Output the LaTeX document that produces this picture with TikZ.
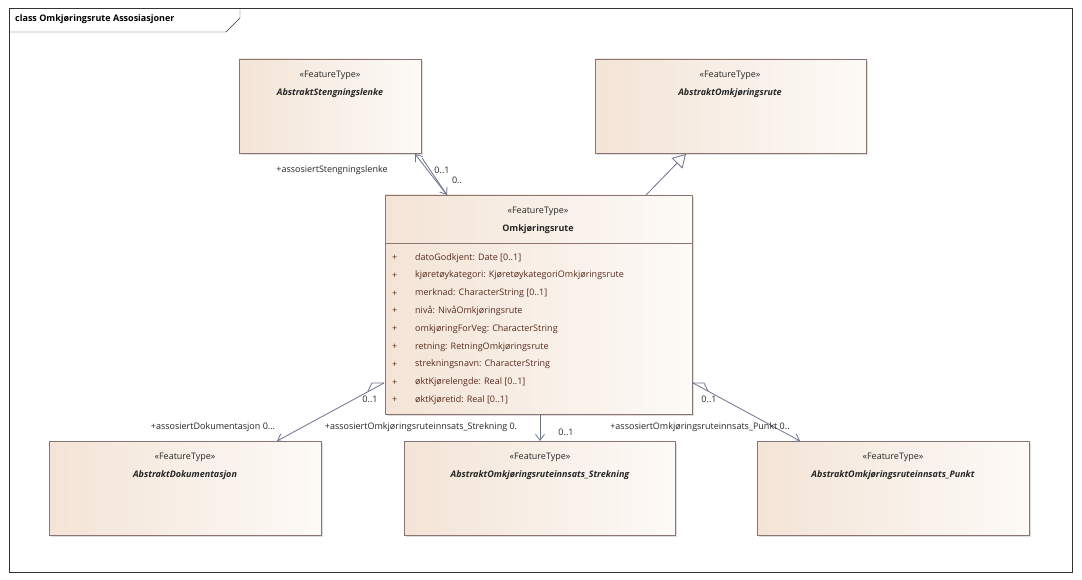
\documentclass[tikz,border=0pt]{standalone}
\usepackage{fontspec}
\setmainfont{Open Sans}
\usetikzlibrary{arrows.meta,shadows,calc}
\definecolor{bord}{HTML}{8C7474}
\definecolor{txt}{HTML}{5A2A1E}
\definecolor{lnk}{HTML}{6E7390}
\definecolor{boxl}{HTML}{F3E4D6}
\definecolor{boxr}{HTML}{FDFAF7}
\begin{document}
\begin{tikzpicture}[x=1pt,y=-1pt,
  cls/.style={draw=bord,left color=boxl,right color=boxr,drop shadow={shadow xshift=2pt,shadow yshift=-2pt,fill=black!25}},
  st/.style={font=\fontsize{9}{11}\selectfont,text=black!85},
  nm/.style={font=\fontsize{9}{11}\selectfont\bfseries\itshape,text=black!85},
  lab/.style={font=\fontsize{9}{11}\selectfont,text=black!85,inner sep=0pt},
  attr/.style={font=\fontsize{9}{11}\selectfont,text=txt,anchor=west,inner sep=0pt},
  ln/.style={draw=lnk,line width=0.8pt},
  oa/.style={-{Straight Barb[length=6pt,width=9pt]}}]
\useasboundingbox (0,0) rectangle (1082,580);
\fill[white] (0,0) rectangle (1082,580);
\draw[black!80] (9,8) rectangle (1072,572);
\draw[black!80] (9,32) -- (226,32) -- (240,18) -- (240,8);
\node[anchor=west,font=\fontsize{9}{11}\selectfont\bfseries,inner sep=0pt] (title) at (15,19) {class Omkjøringsrute Assosiasjoner};
% boxes
\path[cls] (239,59) rectangle (421,153);
\node[st] (s1) at (330,75) {«FeatureType»};
\node[nm] (sl) at (330,93) {AbstraktStengningslenke};
\coordinate (slA) at (415,154);
\path[cls] (595,59) rectangle (866,153);
\node[st] (s2) at (730,75) {«FeatureType»};
\node[nm] (ao) at (730,93) {AbstraktOmkjøringsrute};
\coordinate (aoA) at (686,154);
\path[cls] (385,195) rectangle (692,414);
\draw[bord] (385,243) -- (692,243);
\node[st] (s3) at (538,211) {«FeatureType»};
\node[nm,font=\fontsize{9}{11}\selectfont\bfseries] (om) at (538,229) {Omkjøringsrute};
\foreach \t [count=\i] in {datoGodkjent: Date [0..1],kjøretøykategori: KjøretøykategoriOmkjøringsrute,merknad: CharacterString [0..1],nivå: NivåOmkjøringsrute,omkjøringForVeg: CharacterString,retning: RetningOmkjøringsrute,strekningsnavn: CharacterString,øktKjørelengde: Real [0..1],øktKjøretid: Real [0..1]}{
  \node[attr] (p\i) at (392,{240+\i*17.8}) {+};
  \node[attr] (a\i) at (415,{240+\i*17.8}) {\t};
}
\path[cls] (49,441) rectangle (321,535);
\node[st] (s4) at (185,457) {«FeatureType»};
\node[nm] (ad) at (185,475) {AbstraktDokumentasjon};
\path[cls] (404,441) rectangle (675,535);
\node[st] (s5) at (540,457) {«FeatureType»};
\node[nm] (as) at (540,475) {AbstraktOmkjøringsruteinnsats\_Strekning};
\path[cls] (757,441) rectangle (1029,535);
\node[st] (s6) at (893,457) {«FeatureType»};
\node[nm] (ap) at (893,475) {AbstraktOmkjøringsruteinnsats\_Punkt};
% coordinates
\coordinate (omT1) at (447,195);
\coordinate (omT2) at (646,195);
\coordinate (omL) at (384,383);
\coordinate (omB) at (540,414);
\coordinate (omR) at (693,383);
\coordinate (adT) at (277,441);
\coordinate (asT) at (540,441);
\coordinate (apT) at (800,441);
\coordinate (slB) at (422,158);
% connectors
\draw[ln,oa] (omT1) -- (slA);
\draw[ln,oa] (slB) -- (omT1);
\draw[ln,-{Triangle[open,length=13pt,width=15pt,fill=boxr]}] (omT2) -- (aoA);
\draw[ln] (368,391) -- (372,383) -- (omL);
\draw[ln,oa] (omL) -- (adT);
\draw[ln,oa] (omB) -- (asT);
\draw[ln] (708,391) -- (704,383) -- (omR);
\draw[ln,oa] (omR) -- (apT);
% labels
\node[lab] (l1) at (332,170) {+assosiertStengningslenke};
\node[lab] (l2) at (442,170) {0..1};
\node[lab] (l3) at (457,180) {0..};
\node[lab] (l4) at (370,399) {0..1};
\node[lab] (l5) at (213,427) {+assosiertDokumentasjon 0...};
\node[lab] (l6) at (421,427) {+assosiertOmkjøringsruteinnsats\_Strekning 0.};
\node[lab] (l7) at (566,432) {0..1};
\node[lab] (l8) at (700,427) {+assosiertOmkjøringsruteinnsats\_Punkt 0..};
\node[lab] (l9) at (709,399) {0..1};
\end{tikzpicture}
\end{document}
